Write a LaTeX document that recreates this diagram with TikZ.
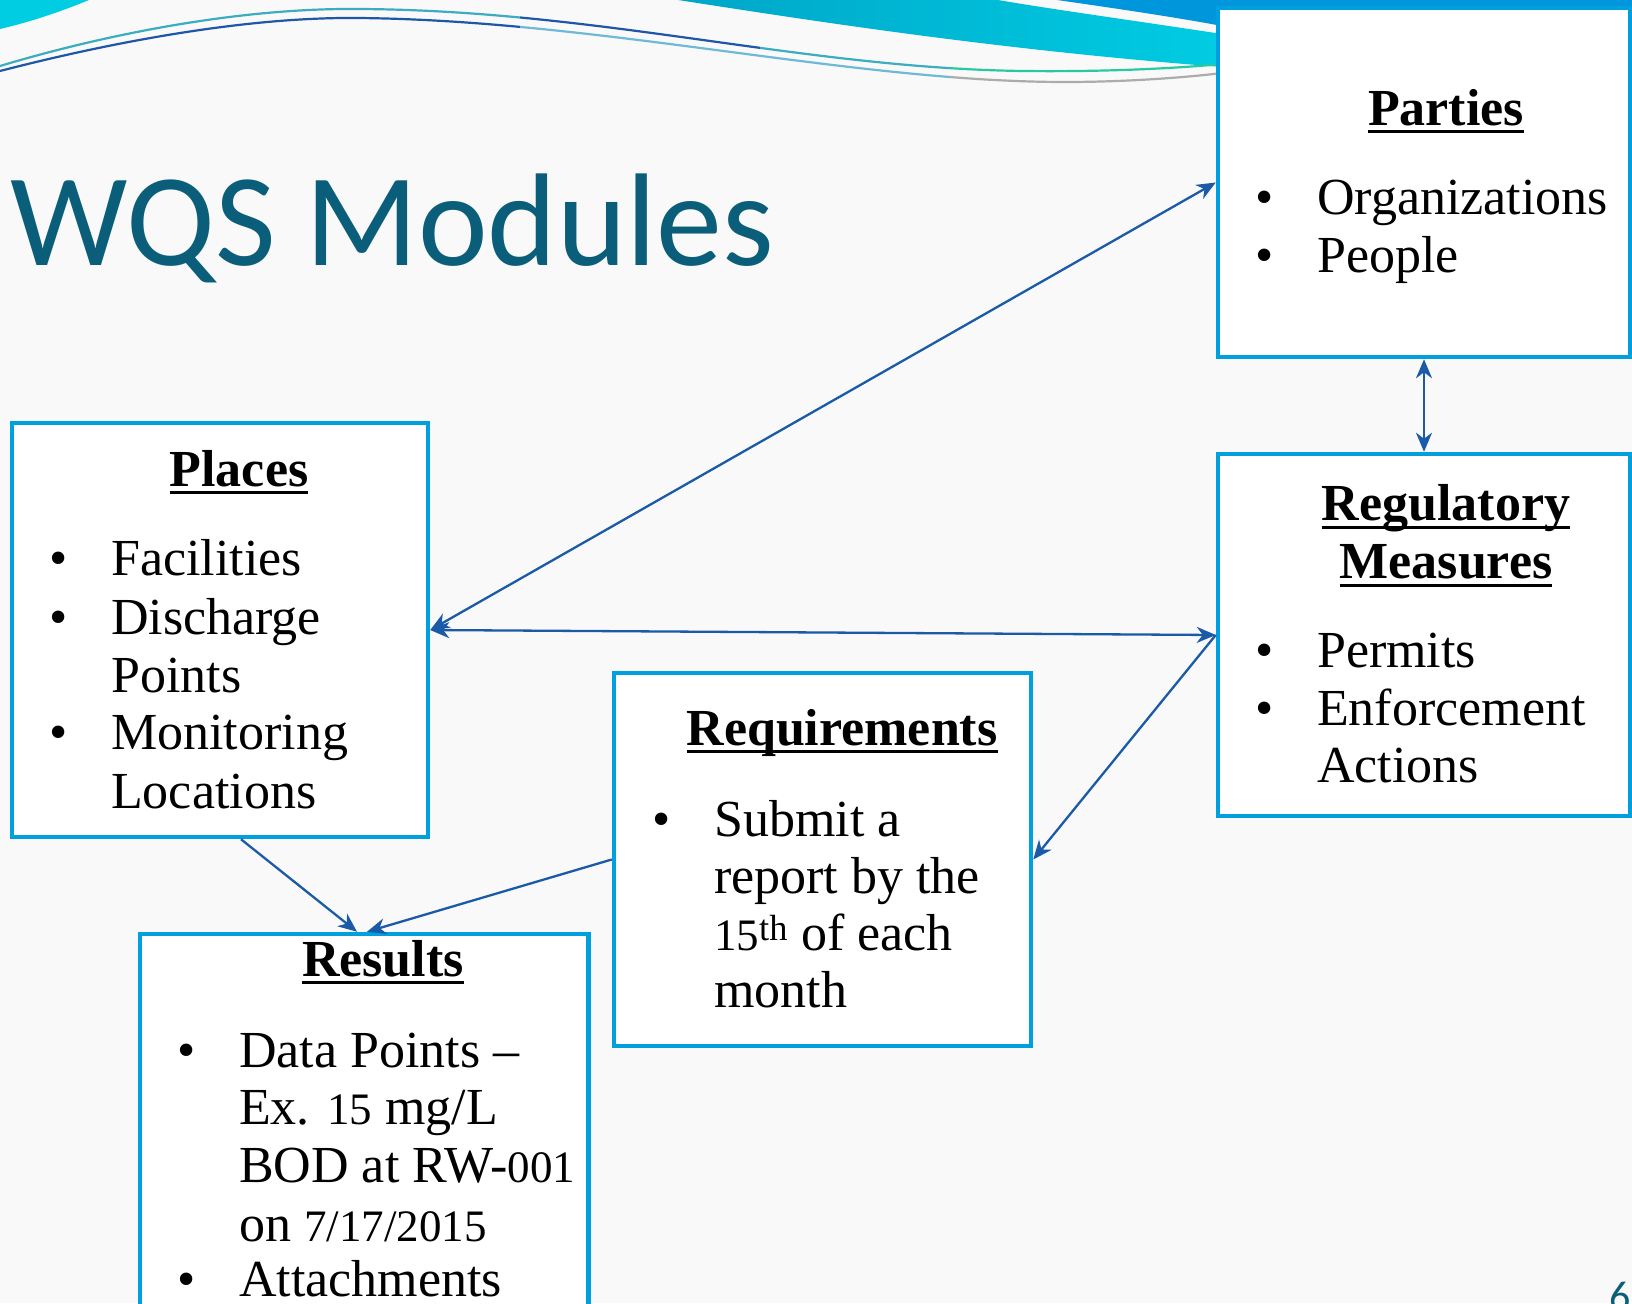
\documentclass[tikz,border=0pt]{standalone}
\usepackage{fontspec}
\setmainfont{Liberation Serif}
\newfontfamily\titlefont{Carlito}
\usetikzlibrary{arrows.meta,calc}
\definecolor{boxblue}{RGB}{0,160,222}
\definecolor{arrowblue}{RGB}{26,90,166}
\definecolor{titleteal}{RGB}{10,94,122}
\definecolor{bgcol}{RGB}{249,249,249}
\definecolor{swleft}{RGB}{0,166,200}
\definecolor{swright}{RGB}{0,204,226}
\definecolor{topblue}{RGB}{0,150,220}
\definecolor{lineteal}{RGB}{60,172,192}
\definecolor{linegreen}{RGB}{40,200,160}
\definecolor{linedblue}{RGB}{30,86,168}
\definecolor{linelblue}{RGB}{110,186,214}
\definecolor{linegray}{RGB}{172,172,172}
\newcommand\ulhead[1]{\setbox0=\hbox{#1}\rlap{\vrule height -5pt depth 8pt width \wd0}\box0}
\newcommand\dig[1]{{\fontsize{45}{58}\selectfont #1}}
\tikzset{
  modbox/.style={draw=boxblue, line width=4.5pt, fill=white},
  body/.style={font=\fontsize{52}{58}\selectfont, inner sep=0pt, anchor=base west},
  head/.style={font=\fontsize{52}{58}\selectfont\bfseries, inner sep=0pt, anchor=base},
  bul/.style={font=\fontsize{52}{58}\selectfont, inner sep=0pt, anchor=base},
  conn/.style={draw=arrowblue, line width=2.3pt},
  >={Stealth[length=19pt,width=16pt,inset=6pt]}
}
\begin{document}
\begin{tikzpicture}[x=1pt,y=-1pt]
\useasboundingbox (0,0) rectangle (1632,1303);
\clip (0,0) rectangle (1632,1303);
\fill[bgcol] (0,0) rectangle (1632,1303);
% decoration
\fill[swright] (0,0) -- (89,0) .. controls (60,12) and (30,22) .. (0,29) -- cycle;
\fill[topblue] (1057,0) .. controls (1120,9) and (1180,18) .. (1222,26) -- (1632,26) -- (1632,0) -- cycle;
\shade[left color=swleft, right color=swright] (678,0) .. controls (820,22) and (1000,50) .. (1222,67) -- (1222,34) .. controls (1130,20) and (1050,9) .. (998,0) -- cycle;
\begin{scope}
\clip (0,0) rectangle (520,100);
\draw[lineteal, line width=2.2pt] (0,66) .. controls (120,30) and (250,8) .. (357,9) .. controls (600,10) and (800,68) .. (1023,71) .. controls (1110,72) and (1180,68) .. (1222,64);
\draw[linedblue, line width=2.2pt] (0,71) .. controls (120,40) and (250,17) .. (357,18) .. controls (600,20) and (850,82) .. (1065,82) .. controls (1130,82) and (1190,77) .. (1222,73);
\end{scope}
\begin{scope}
\clip (520,0) rectangle (760,100);
\draw[linedblue, line width=2.2pt] (0,66) .. controls (120,30) and (250,8) .. (357,9) .. controls (600,10) and (800,68) .. (1023,71) .. controls (1110,72) and (1180,68) .. (1222,64);
\draw[linelblue, line width=2.2pt] (0,71) .. controls (120,40) and (250,17) .. (357,18) .. controls (600,20) and (850,82) .. (1065,82) .. controls (1130,82) and (1190,77) .. (1222,73);
\end{scope}
\begin{scope}
\clip (760,0) rectangle (950,100);
\draw[lineteal, line width=2.2pt] (0,66) .. controls (120,30) and (250,8) .. (357,9) .. controls (600,10) and (800,68) .. (1023,71) .. controls (1110,72) and (1180,68) .. (1222,64);
\draw[linelblue, line width=2.2pt] (0,71) .. controls (120,40) and (250,17) .. (357,18) .. controls (600,20) and (850,82) .. (1065,82) .. controls (1130,82) and (1190,77) .. (1222,73);
\end{scope}
\begin{scope}
\clip (950,0) rectangle (1222,100);
\draw[linegreen, line width=2.2pt] (0,66) .. controls (120,30) and (250,8) .. (357,9) .. controls (600,10) and (800,68) .. (1023,71) .. controls (1110,72) and (1180,68) .. (1222,64);
\draw[linegray, line width=2.2pt] (0,71) .. controls (120,40) and (250,17) .. (357,18) .. controls (600,20) and (850,82) .. (1065,82) .. controls (1130,82) and (1190,77) .. (1222,73);
\end{scope}
% title
\node[font=\titlefont\fontsize{132}{140}\selectfont, text=titleteal, anchor=base west, inner sep=0pt] (title) at (10,265) {WQS Modules};
% boxes
\node[modbox, minimum width=412pt, minimum height=349pt] (parties) at (1424,182.5) {};
\node[modbox, minimum width=416pt, minimum height=414pt] (places) at (220,630) {};
\node[modbox, minimum width=412pt, minimum height=362pt] (reg) at (1424,635) {};
\node[modbox, minimum width=417pt, minimum height=373pt] (req) at (822.5,859.5) {};
\node[modbox, minimum width=448.5pt, minimum height=386pt] (results) at (364,1127) {};
% connectors
\draw[conn,<->] (places.east) -- (parties.west);
\draw[conn,<->] (places.east) -- (reg.west);
\draw[conn,<->] (parties.south) -- (reg.north);
\draw[conn,->] (reg.west) -- (req.east);
\draw[conn,->] ([xshift=21pt]places.south) -- ([xshift=-7pt]results.north);
\draw[conn,->] (req.west) -- ([xshift=3pt]results.north);
% Parties
\node[head] (parh) at (1446,125) {\ulhead{Parties}};
\node[bul] (parb1) at (1265,214) {\textbullet};
\node[body] (part1) at (1317,214) {Organizations};
\node[bul] (parb2) at (1265,272.5) {\textbullet};
\node[body] (part2) at (1317,272.5) {People};
% Places
\node[head] (plah) at (239,486) {\ulhead{Places}};
\node[bul] (plab1) at (59,575.5) {\textbullet};
\node[body] (plat1) at (111,575.5) {Facilities};
\node[bul] (plab2) at (59,634) {\textbullet};
\node[body] (plat2) at (111,634) {Discharge};
\node[body] (plat3) at (111,692) {Points};
\node[bul] (plab3) at (59,749) {\textbullet};
\node[body] (plat4) at (111,749) {Monitoring};
\node[body] (plat5) at (111,808) {Locations};
% Regulatory Measures
\node[head] (regh1) at (1446,520.5) {\ulhead{Regulatory}};
\node[head] (regh2) at (1446,578.7) {\ulhead{Measures}};
\node[bul] (regb1) at (1265,667) {\textbullet};
\node[body] (regt1) at (1317,667) {Permits};
\node[bul] (regb2) at (1265,725) {\textbullet};
\node[body] (regt2) at (1317,725) {Enforcement};
\node[body] (regt3) at (1317,782.7) {Actions};
% Requirements
\node[head] (reqh) at (842,745) {\ulhead{Requirements}};
\node[bul] (reqb1) at (662,836) {\textbullet};
\node[body] (reqt1) at (714,836) {Submit a};
\node[body] (reqt2) at (714,893) {report by the};
\node[body] (reqt3) at (714,950) {\dig{15}\textsuperscript{th} of each};
\node[body] (reqt4) at (714,1007.5) {month};
% Results
\node[head] (resh) at (383,976) {\ulhead{Results}};
\node[bul] (resb1) at (187,1067) {\textbullet};
\node[body] (rest1) at (239,1067) {Data Points –};
\node[body] (rest2) at (239,1124) {Ex. \dig{15} mg/L};
\node[body] (rest3) at (239,1182) {BOD at RW-\dig{001}};
\node[body] (rest4) at (239,1241) {on \dig{7/17/2015}};
\node[bul] (resb2) at (187,1296) {\textbullet};
\node[body] (rest5) at (239,1296) {Attachments};
% page number
\node[font=\titlefont\fontsize{42}{46}\selectfont, text=titleteal, anchor=base west, inner sep=0pt] (pagenum) at (1609,1310) {6};
\end{tikzpicture}
\end{document}
